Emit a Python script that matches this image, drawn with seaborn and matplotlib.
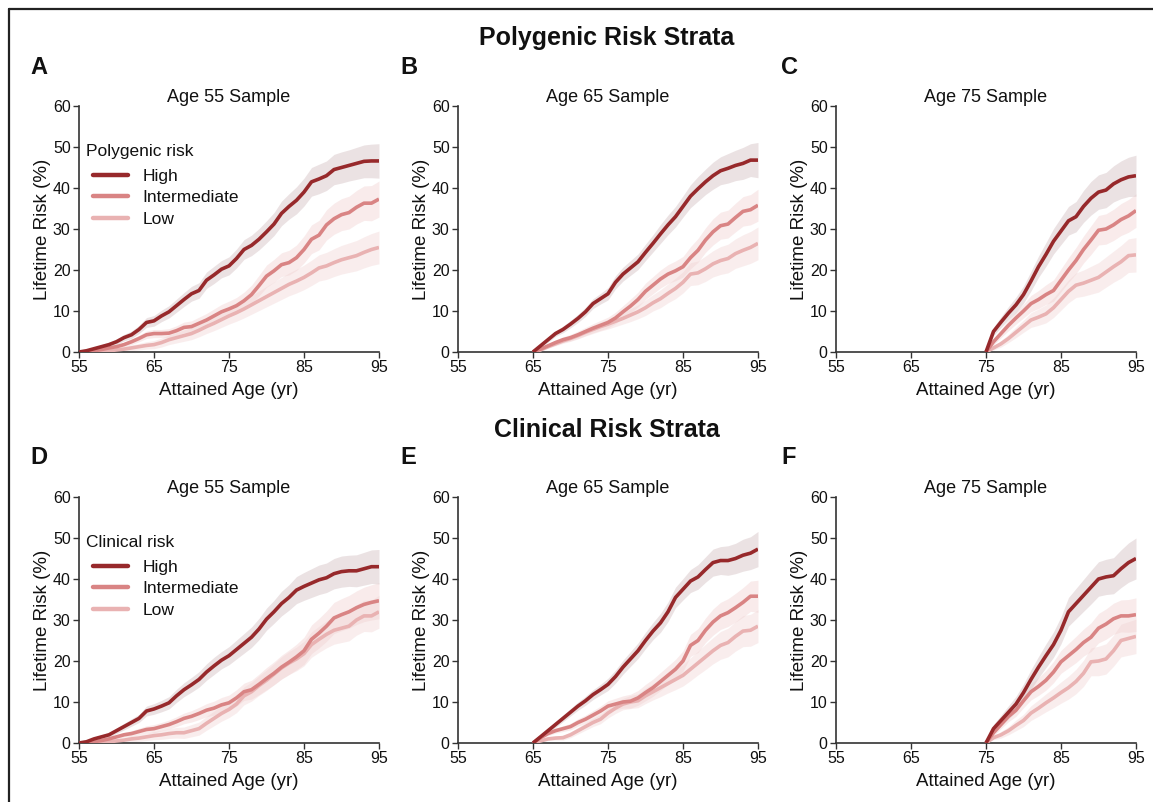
import numpy as np
import pandas as pd
import matplotlib
matplotlib.use("Agg")
import matplotlib.pyplot as plt
import seaborn as sns
from matplotlib.lines import Line2D

sns.set_theme(style="ticks")
plt.rcParams["font.family"] = ["Liberation Sans", "DejaVu Sans"]

# ---------------- data ----------------
ages_55 = list(range(55, 96))
ages_65 = list(range(65, 96))
ages_75 = list(range(75, 96))

# Polygenic risk strata
A_high = [0, 0.3, 0.8, 1.3, 1.8, 2.5, 3.5, 4.2, 5.5, 7.2, 7.6, 8.8, 9.8, 11.3, 12.8, 14.2, 15.0, 17.5, 18.8, 20.2,
          21.0, 22.8, 25.0, 26.0, 27.5, 29.3, 31.2, 33.8, 35.5, 37.0, 39.0, 41.5, 42.2, 43.0, 44.5, 45.0, 45.5, 46.0,
          46.5, 46.6, 46.6]
A_int = [0, 0.1, 0.3, 0.6, 1.0, 1.3, 1.8, 2.5, 3.3, 4.2, 4.5, 4.5, 4.6, 5.2, 6.0, 6.2, 7.0, 7.8, 8.8, 9.8,
         10.5, 11.3, 12.5, 14.0, 16.2, 18.5, 19.8, 21.3, 21.8, 23.0, 25.0, 27.5, 28.5, 31.0, 32.5, 33.5, 34.0, 35.3,
         36.3, 36.3, 37.3]
A_low = [0, 0, 0.1, 0.2, 0.3, 0.5, 0.7, 1.0, 1.3, 1.6, 1.8, 2.3, 3.0, 3.5, 4.0, 4.5, 5.3, 6.2, 7.0, 7.9,
         8.8, 9.6, 10.5, 11.5, 12.5, 13.5, 14.5, 15.5, 16.5, 17.3, 18.2, 19.3, 20.5, 21.0, 21.8, 22.5, 23.0, 23.5,
         24.3, 25.0, 25.5]

B_high = [0, 1.5, 3.0, 4.5, 5.5, 6.8, 8.2, 9.8, 11.8, 13.0, 14.2, 17.0, 19.0, 20.5, 22.0, 24.3, 26.5, 28.8, 31.0,
          33.0, 35.5, 38.0, 39.8, 41.5, 43.0, 44.2, 44.8, 45.5, 46.0, 46.8, 46.8]
B_int = [0, 0.7, 1.5, 2.3, 3.0, 3.5, 4.2, 5.0, 5.8, 6.5, 7.2, 8.3, 9.8, 11.2, 12.8, 14.8, 16.3, 17.8, 19.0, 19.8,
         20.8, 23.0, 24.8, 27.3, 29.3, 30.8, 31.2, 32.8, 34.3, 34.7, 35.8]
B_low = [0, 0.5, 1.3, 2.0, 2.7, 3.3, 4.0, 4.8, 5.5, 6.2, 6.8, 7.5, 8.2, 9.0, 9.8, 10.8, 12.0, 13.0, 14.3, 15.5,
         17.0, 19.0, 19.3, 20.3, 21.5, 22.3, 22.8, 24.0, 24.8, 25.5, 26.5]

C_high = [0, 5.0, 7.3, 9.5, 11.5, 14.0, 17.3, 20.8, 23.8, 27.0, 29.5, 32.0, 33.0, 35.5, 37.5, 39.0, 39.5, 41.0,
          42.0, 42.7, 43.0]
C_int = [0, 2.5, 4.5, 6.5, 8.3, 10.0, 11.8, 12.8, 14.0, 15.0, 17.5, 20.0, 22.3, 25.0, 27.3, 29.7, 30.0, 31.0,
         32.3, 33.2, 34.5]
C_low = [0, 1.0, 2.0, 3.3, 4.8, 6.3, 7.8, 8.5, 9.3, 10.8, 12.8, 14.8, 16.3, 16.8, 17.5, 18.2, 19.5, 20.8, 22.0,
         23.5, 23.7]

# Clinical risk strata
D_high = [0, 0.3, 1.0, 1.5, 2.0, 3.0, 4.0, 5.0, 6.0, 7.8, 8.3, 9.0, 9.8, 11.5, 13.0, 14.2, 15.5, 17.3, 18.8, 20.2,
          21.3, 22.8, 24.3, 25.8, 27.8, 30.2, 32.0, 34.0, 35.5, 37.3, 38.2, 39.0, 39.8, 40.3, 41.3, 41.8, 42.0, 42.0,
          42.5, 43.0, 43.0]
D_int = [0, 0.1, 0.3, 0.6, 1.0, 1.5, 2.0, 2.3, 2.8, 3.3, 3.5, 4.0, 4.5, 5.2, 6.0, 6.5, 7.2, 8.0, 8.5, 9.3,
         9.8, 11.0, 12.5, 13.0, 14.3, 15.7, 17.0, 18.5, 19.7, 21.0, 22.5, 25.3, 26.8, 28.5, 30.5, 31.3, 32.0, 33.0,
         33.8, 34.3, 34.7]
D_low = [0, 0, 0.1, 0.2, 0.3, 0.5, 0.7, 1.0, 1.2, 1.5, 1.8, 2.0, 2.3, 2.5, 2.5, 3.0, 3.5, 4.8, 6.0, 7.2,
         8.2, 9.5, 11.5, 12.5, 14.0, 15.3, 16.8, 18.3, 19.5, 20.5, 21.8, 24.0, 25.3, 26.5, 27.5, 28.0, 28.5, 30.0,
         31.0, 31.0, 32.0]

E_high = [0, 1.5, 3.0, 4.5, 6.0, 7.5, 9.0, 10.3, 11.8, 13.0, 14.3, 16.2, 18.5, 20.5, 22.5, 25.0, 27.3, 29.3, 32.0,
          35.5, 37.5, 39.5, 40.5, 42.3, 44.0, 44.5, 44.5, 45.0, 45.8, 46.3, 47.3]
E_int = [0, 1.3, 2.3, 3.0, 3.5, 4.0, 5.0, 5.8, 6.8, 7.8, 9.0, 9.5, 10.0, 10.2, 11.0, 12.3, 13.5, 15.0, 16.5, 18.0,
         20.0, 23.8, 25.0, 27.5, 29.5, 31.0, 31.8, 33.0, 34.3, 35.8, 35.8]
E_low = [0, 0.5, 1.0, 1.2, 1.3, 2.0, 3.0, 4.0, 5.0, 5.8, 7.3, 8.5, 9.5, 10.0, 10.3, 11.5, 12.5, 13.5, 14.5, 15.5,
         16.5, 18.0, 19.5, 21.0, 22.5, 23.8, 24.5, 26.0, 27.3, 27.5, 28.5]

F_high = [0, 3.5, 5.5, 7.5, 9.5, 12.3, 15.5, 18.5, 21.3, 24.0, 27.5, 32.0, 34.0, 36.0, 38.0, 40.0, 40.5, 40.8,
          42.5, 44.0, 45.0]
F_int = [0, 2.5, 4.5, 6.5, 8.0, 10.3, 12.5, 13.8, 15.3, 17.3, 19.8, 21.3, 22.8, 24.5, 25.8, 28.0, 29.0, 30.3,
         31.0, 31.0, 31.3]
F_low = [0, 1.3, 2.0, 3.0, 4.3, 5.5, 7.3, 8.5, 9.8, 11.0, 12.3, 13.5, 15.0, 17.0, 19.8, 20.0, 20.5, 22.5, 25.0,
         25.5, 26.0]

# confidence band half-widths
HW55_high = [0, 0.3, 0.4, 0.5, 0.6, 0.7, 0.8, 0.9, 1.0, 1.2, 1.3, 1.4, 1.5, 1.6, 1.7, 1.8, 1.9, 2.0, 2.1, 2.1,
             2.2, 2.3, 2.4, 2.5, 2.6, 2.7, 2.8, 3.0, 3.1, 3.3, 3.4, 3.5, 3.6, 3.6, 3.7, 3.8, 3.8, 3.9, 4.0, 4.1, 4.2]
HW55_int = [0, 0.1, 0.2, 0.3, 0.4, 0.5, 0.6, 0.7, 0.8, 0.9, 1.0, 1.0, 1.1, 1.2, 1.3, 1.4, 1.5, 1.6, 1.7, 1.8,
            1.9, 2.0, 2.1, 2.3, 2.5, 2.7, 2.8, 2.9, 3.0, 3.1, 3.3, 3.5, 3.6, 3.7, 3.8, 3.9, 4.0, 4.1, 4.2, 4.3, 4.4]
HW55_low = [0, 0.1, 0.2, 0.3, 0.4, 0.5, 0.6, 0.7, 0.8, 0.9, 1.0, 1.1, 1.2, 1.3, 1.4, 1.5, 1.6, 1.7, 1.8, 1.9,
            2.0, 2.1, 2.2, 2.3, 2.4, 2.5, 2.6, 2.7, 2.8, 2.9, 3.0, 3.1, 3.2, 3.3, 3.4, 3.5, 3.6, 3.7, 3.8, 3.9, 4.0]
HW65_high = [0, 0.4, 0.6, 0.7, 0.8, 0.9, 1.0, 1.1, 1.2, 1.3, 1.5, 1.6, 1.7, 1.8, 1.9, 2.0, 2.1, 2.3, 2.4, 2.5,
             2.6, 2.8, 3.0, 3.1, 3.3, 3.4, 3.6, 3.7, 3.9, 4.0, 4.3]
HW65_int = [0, 0.3, 0.5, 0.6, 0.7, 0.8, 0.9, 1.0, 1.1, 1.2, 1.3, 1.4, 1.5, 1.7, 1.8, 2.0, 2.1, 2.2, 2.3, 2.4,
            2.5, 2.7, 2.9, 3.0, 3.2, 3.3, 3.4, 3.5, 3.6, 3.7, 3.9]
HW65_low = [0, 0.3, 0.4, 0.5, 0.6, 0.7, 0.8, 0.9, 1.0, 1.1, 1.2, 1.3, 1.4, 1.6, 1.7, 1.9, 2.0, 2.2, 2.3, 2.5,
            2.6, 2.8, 2.9, 3.1, 3.2, 3.4, 3.5, 3.6, 3.8, 3.9, 4.0]
HW75_high = [0, 1.0, 1.3, 1.6, 1.9, 2.1, 2.4, 2.6, 2.9, 3.1, 3.3, 3.5, 3.7, 3.9, 4.1, 4.2, 4.3, 4.4, 4.6, 4.8, 5.0]
HW75_int = [0, 0.8, 1.0, 1.3, 1.5, 1.7, 2.0, 2.2, 2.4, 2.6, 2.8, 3.0, 3.2, 3.3, 3.5, 3.6, 3.7, 3.8, 3.9, 4.0, 4.1]
HW75_low = [0, 0.5, 0.8, 1.0, 1.3, 1.5, 1.8, 2.0, 2.2, 2.4, 2.6, 2.8, 3.0, 3.2, 3.4, 3.6, 3.7, 3.8, 4.0, 4.1, 4.2]

strata = ["High", "Intermediate", "Low"]
line_colors = {"High": "#97292b", "Intermediate": "#d98484", "Low": "#e9b2b2"}
band_colors = {"High": "#d8c6c8", "Intermediate": "#f0cfcf", "Low": "#f3d9d9"}
band_alpha = {"High": 0.5, "Intermediate": 0.4, "Low": 0.45}

panels = [
    ("A", "Age 55 Sample", ages_55, {"High": A_high, "Intermediate": A_int, "Low": A_low},
     {"High": HW55_high, "Intermediate": HW55_int, "Low": HW55_low}, "Polygenic risk"),
    ("B", "Age 65 Sample", ages_65, {"High": B_high, "Intermediate": B_int, "Low": B_low},
     {"High": HW65_high, "Intermediate": HW65_int, "Low": HW65_low}, None),
    ("C", "Age 75 Sample", ages_75, {"High": C_high, "Intermediate": C_int, "Low": C_low},
     {"High": HW75_high, "Intermediate": HW75_int, "Low": HW75_low}, None),
    ("D", "Age 55 Sample", ages_55, {"High": D_high, "Intermediate": D_int, "Low": D_low},
     {"High": HW55_high, "Intermediate": HW55_int, "Low": HW55_low}, "Clinical risk"),
    ("E", "Age 65 Sample", ages_65, {"High": E_high, "Intermediate": E_int, "Low": E_low},
     {"High": HW65_high, "Intermediate": HW65_int, "Low": HW65_low}, None),
    ("F", "Age 75 Sample", ages_75, {"High": F_high, "Intermediate": F_int, "Low": F_low},
     {"High": HW75_high, "Intermediate": HW75_int, "Low": HW75_low}, None),
]
row_titles = ["Polygenic Risk Strata", "Clinical Risk Strata"]

# ---------------- figure ----------------
FW, FH = 1153, 802
fig = plt.figure(figsize=(FW / 100, FH / 100), dpi=100)
fig.patch.set_facecolor("white")

lefts_px = [79, 458, 836]
xaxis_px = [352, 743]
W, H = 300, 246
letter_x_px = [30, 400, 781]
letter_y_px = [67, 458]
row_title_y_px = [38, 430]
text_color = "#111111"
spine_color = "#333333"

for i, (letter, title, ages, series, hws, leg_title) in enumerate(panels):
    r, c = divmod(i, 3)
    ax = fig.add_axes([lefts_px[c] / FW, (FH - xaxis_px[r]) / FH, W / FW, H / FH])
    ax.set_facecolor("white")
    for s in ["Low", "Intermediate", "High"]:
        y = np.array(series[s], dtype=float)
        hw = np.array(hws[s], dtype=float)
        ax.fill_between(ages, np.clip(y - hw, 0, None), y + hw, color=band_colors[s],
                        alpha=band_alpha[s], lw=0, zorder=1)
    for s in ["Low", "Intermediate", "High"]:
        df = pd.DataFrame({"age": ages, "risk": series[s]})
        sns.lineplot(data=df, x="age", y="risk", color=line_colors[s], lw=2.6, ax=ax,
                     zorder=3, solid_capstyle="butt")
    ax.set_xlim(55, 95)
    ax.set_ylim(0, 60)
    ax.set_xticks([55, 65, 75, 85, 95])
    ax.set_yticks([0, 10, 20, 30, 40, 50, 60])
    ax.set_xlabel("Attained Age (yr)", fontsize=13.5, color=text_color, labelpad=5)
    ax.set_ylabel("Lifetime Risk (%)", fontsize=13.5, color=text_color, labelpad=1.5)
    ax.set_title(title, fontsize=13, color=text_color, pad=1)
    ax.tick_params(axis="both", length=4, width=1, color=spine_color, labelsize=11.5,
                   labelcolor=text_color, pad=2)
    for sp in ["top", "right"]:
        ax.spines[sp].set_visible(False)
    for sp in ["left", "bottom"]:
        ax.spines[sp].set_color(spine_color)
        ax.spines[sp].set_linewidth(1.2)
    if leg_title:
        handles = [Line2D([0], [0], color=line_colors[s], lw=3.2) for s in strata]
        leg = ax.legend(handles, strata, title=leg_title, loc="upper left",
                        bbox_to_anchor=(0.0, 0.875), frameon=False, fontsize=12.5,
                        title_fontsize=12.5, handlelength=2.0, handletextpad=0.85,
                        labelspacing=0.35, borderaxespad=0, borderpad=0.4, alignment="left")
        leg._legend_handle_box.pad = 5
        leg._legend_box.sep = 2.5
        for t in leg.get_texts():
            t.set_color(text_color)
        leg.get_title().set_color(text_color)
    fig.text(letter_x_px[c] / FW, 1 - letter_y_px[r] / FH, letter, fontsize=17,
             fontweight="bold", ha="left", va="center", color=text_color)

for r in range(2):
    fig.text(607 / FW, 1 - row_title_y_px[r] / FH, row_titles[r], fontsize=18,
             fontweight="bold", ha="center", va="center", color=text_color)

# frame lines (left and top)
fig.add_artist(Line2D([8.5 / FW, 8.5 / FW], [0, 1 - 8.5 / FH], transform=fig.transFigure,
                      color="#222222", lw=1.6))
fig.add_artist(Line2D([8.5 / FW, 1], [1 - 8.5 / FH, 1 - 8.5 / FH], transform=fig.transFigure,
                      color="#222222", lw=1.6))

fig.savefig("out.png", dpi=100, facecolor="white")
